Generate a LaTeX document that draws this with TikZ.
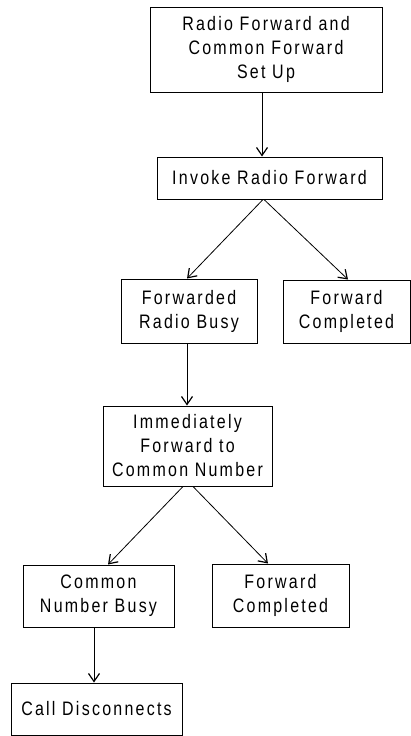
\documentclass[tikz,border=0pt]{standalone}
\usepackage{fontspec}
\setmainfont{Liberation Sans}[FakeStretch=0.82,LetterSpace=11.5]
\usetikzlibrary{arrows.meta}
\begin{document}
\begin{tikzpicture}[x=1pt,y=-1pt,
  box/.style={draw=black,line width=1pt,rectangle,inner sep=0pt,align=center,
    font=\fontsize{19.5}{24}\selectfont},
  arr/.style={draw=black,line width=0.8pt,-{Straight Barb[length=8pt,width=11pt,line width=1.2pt]}}]
\useasboundingbox (0,0) rectangle (411,736);
% process steps
\node[box,minimum width=232pt,minimum height=85pt] (setup) at (266,49.5)
  {Radio Forward and\\Common Forward\\Set Up};
\node[box,minimum width=225pt,minimum height=42pt] (invoke) at (269.5,178)
  {Invoke Radio Forward};
\node[box,minimum width=136pt,minimum height=64pt] (radiobusy) at (189,311)
  {Forwarded\\Radio Busy};
\node[box,minimum width=127pt,minimum height=63pt] (done1) at (346.5,311.5)
  {Forward\\Completed};
\node[box,minimum width=169pt,minimum height=80pt] (common) at (187.5,446)
  {Immediately\\Forward to\\Common Number};
\node[box,minimum width=151pt,minimum height=62pt] (commonbusy) at (98.5,596)
  {Common\\Number Busy};
\node[box,minimum width=137pt,minimum height=63pt] (done2) at (280.5,595.5)
  {Forward\\Completed};
\node[box,minimum width=171pt,minimum height=52pt] (disc) at (96.5,709)
  {Call Disconnects};
% transitions
\draw[arr] ([xshift=-4pt]setup.south) -- ([xshift=-7.5pt]invoke.north);
\draw[arr] ([xshift=-6.5pt]invoke.south) -- ([xshift=-2pt]radiobusy.north);
\draw[arr] ([xshift=-5.5pt]invoke.south) -- ([xshift=1.5pt]done1.north);
\draw[arr] ([xshift=-2pt]radiobusy.south) -- ([xshift=-0.5pt]common.north);
\draw[arr] ([xshift=-4.5pt]common.south) -- ([xshift=9.5pt]commonbusy.north);
\draw[arr] ([xshift=5.5pt]common.south) -- ([xshift=-12.5pt]done2.north);
\draw[arr] ([xshift=-4.5pt]commonbusy.south) -- ([xshift=-2.5pt]disc.north);
\end{tikzpicture}
\end{document}
